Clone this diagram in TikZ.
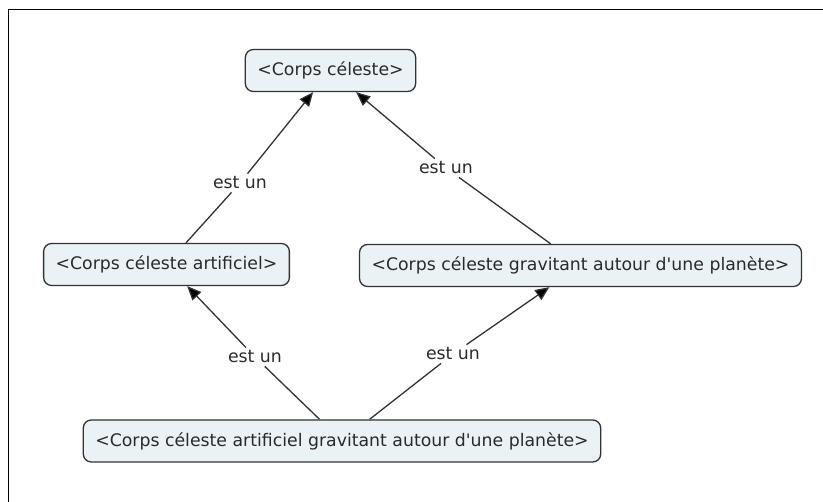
\documentclass[tikz,border=0pt]{standalone}
\usepackage{fontspec}
\setmainfont{DejaVu Sans}[Ligatures=TeXOff]
\usetikzlibrary{arrows.meta}
\definecolor{boxfill}{HTML}{EBF2F5}
\definecolor{boxline}{HTML}{333333}
\definecolor{txt}{HTML}{2A2A2A}
\begin{document}
\begin{tikzpicture}[x=1pt,y=-1pt,
  concept/.style={draw=boxline, line width=1.3pt, fill=boxfill, rounded corners=8pt,
    inner xsep=12pt, inner ysep=0pt, minimum height=42pt, text=txt,
    font=\fontsize{17.3}{20}\selectfont},
  linklabel/.style={inner sep=3pt, text=txt, font=\fontsize{17.3}{20}\selectfont},
  link/.style={draw=boxline, line width=1.3pt},
  arr/.style={link, -{Triangle[length=14pt,width=12pt,fill=black]}}]
\useasboundingbox (0,0) rectangle (823,502);
\fill[white] (0,0) rectangle (823,502);
\draw[line width=1.8pt, black] (8.5,502) -- (8.5,9.5) -- (823,9.5);

\node[concept] (cc) at (330.5,70.5) {<Corps céleste>};
\node[concept] (art) at (166.5,264.5) {<Corps céleste artificiel>};
\node[concept] (grav) at (580.5,265.5) {<Corps céleste gravitant autour d'une planète>};
\node[concept] (both) at (342,441) {<Corps céleste artificiel gravitant autour d'une planète>};

\node[linklabel] (l1) at (240,183) {est un};
\node[linklabel] (l2) at (446,168) {est un};
\node[linklabel] (l3) at (255,357) {est un};
\node[linklabel] (l4) at (453,354) {est un};

\draw[link] (art) -- (l1);
\draw[arr] (l1) -- (cc);
\draw[link] (grav) -- (l2);
\draw[arr] (l2) -- (cc);
\draw[link] (both) -- (l3);
\draw[arr] (l3) -- (art);
\draw[link] (both) -- (l4);
\draw[arr] (l4) -- (grav);
\end{tikzpicture}
\end{document}
